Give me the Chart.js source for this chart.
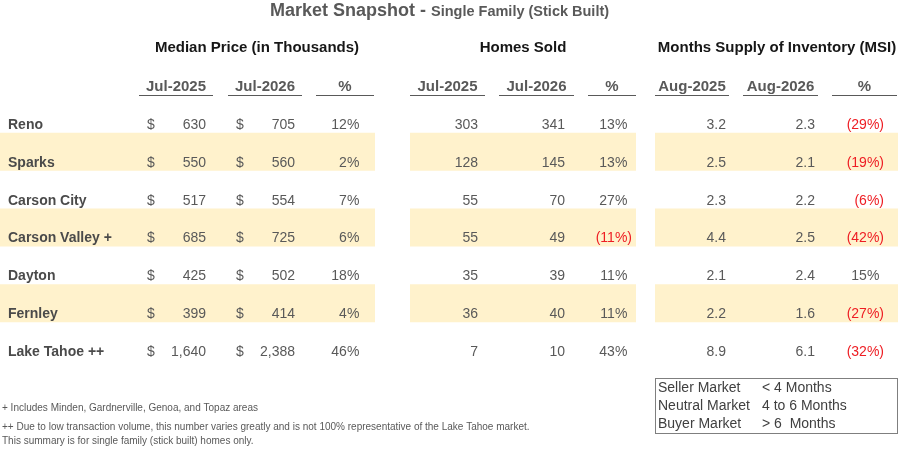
<!DOCTYPE html>
<html>
<head>
<meta charset="utf-8">
<script src="https://cdn.jsdelivr.net/npm/chart.js@4.4.1/dist/chart.umd.min.js"></script>
<style>
html, body { margin: 0; padding: 0; background: #fff; overflow: hidden; }
</style>
</head>
<body>
<canvas id="grafica" width="900" height="449"></canvas>
<script>
// datos de la tabla
const cities = ['Reno', 'Sparks', 'Carson City', 'Carson Valley +', 'Dayton', 'Fernley', 'Lake Tahoe ++'];
const priceJul2025 = [630, 550, 517, 685, 425, 399, 1640];
const priceJul2026 = [705, 560, 554, 725, 502, 414, 2388];
const pricePct = [12, 2, 7, 6, 18, 4, 46];
const soldJul2025 = [303, 128, 55, 55, 35, 36, 7];
const soldJul2026 = [341, 145, 70, 49, 39, 40, 10];
const soldPct = [13, 13, 27, -11, 11, 11, 43];
const msiAug2025 = [3.2, 2.5, 2.3, 4.4, 2.1, 2.2, 8.9];
const msiAug2026 = [2.3, 2.1, 2.2, 2.5, 2.4, 1.6, 6.1];
const msiPct = [-29, -19, -6, -42, 15, -27, -32];
const bandRows = ['Sparks', 'Carson Valley +', 'Fernley'];

const title = 'Market Snapshot';
const subtitle = 'Single Family (Stick Built)';
const groupTitles = ['Median Price (in Thousands)', 'Homes Sold', 'Months Supply of Inventory (MSI)'];
const columnLabels = ['Jul-2025', 'Jul-2026', '%', 'Jul-2025', 'Jul-2026', '%', 'Aug-2025', 'Aug-2026', '%'];
const legendRows = [['Seller Market', '< 4 Months'], ['Neutral Market', '4 to 6 Months'], ['Buyer Market', '> 6  Months']];
const footnotes = [
    '+ Includes Minden, Gardnerville, Genoa, and Topaz areas',
    '++ Due to low transaction volume, this number varies greatly and is not 100% representative of the Lake Tahoe market.',
    'This summary is for single family (stick built) homes only.'
];

// layout (pixeles sobre la escala x 0..900)
const bandSpans = [[0, 375], [410, 636], [655, 898]];
const groupCenters = [257, 523, 777];
const underlines = [[139, 213], [228, 302], [316, 374], [410, 485], [499, 574], [588, 636], [655, 729], [743, 818], [832, 897]];

const FONT = '"Liberation Sans", Arial, sans-serif';
const GRIS = '#595959';
const ROJO = '#ee1d23';

function miles(v) { return v.toLocaleString('en-US'); }

var tablaPlugin = {
    id: 'tabla',
    afterDatasetsDraw(chart) {
        var ctx = chart.ctx;
        var sx = chart.scales.x;
        var sy = chart.scales.y;
        var px = v => sx.getPixelForValue(v);
        ctx.save();
        ctx.textBaseline = 'middle';

        // titulo
        ctx.fillStyle = GRIS;
        ctx.textAlign = 'left';
        ctx.font = 'bold 18px ' + FONT;
        var t = title + ' - ';
        ctx.fillText(t, px(270), 11);
        var w = ctx.measureText(t).width;
        ctx.font = 'bold 14.5px ' + FONT;
        ctx.fillText(subtitle, px(270) + w, 12);

        // encabezados de grupo
        ctx.fillStyle = '#161616';
        ctx.textAlign = 'center';
        ctx.font = 'bold 15px ' + FONT;
        groupTitles.forEach((g, i) => ctx.fillText(g, px(groupCenters[i]), 48));

        // encabezados de columna + subrayado
        ctx.font = 'bold 15px ' + FONT;
        ctx.strokeStyle = GRIS;
        ctx.lineWidth = 1;
        columnLabels.forEach((c, i) => {
            var a = px(underlines[i][0]), b = px(underlines[i][1]);
            ctx.fillStyle = GRIS;
            ctx.fillText(c, (a + b) / 2, 87);
            ctx.beginPath();
            ctx.moveTo(a, 95.5);
            ctx.lineTo(b, 95.5);
            ctx.stroke();
        });

        // filas
        ctx.font = '14px ' + FONT;
        var paren = ctx.measureText(')').width;
        function pct(v, right, yy) {
            ctx.textAlign = 'right';
            if (v < 0) {
                ctx.fillStyle = ROJO;
                ctx.fillText('(' + Math.abs(v) + '%)', right, yy);
            } else {
                ctx.fillStyle = GRIS;
                ctx.fillText(v + '%', right - paren, yy);
            }
        }
        function num(s, right, yy) {
            ctx.textAlign = 'right';
            ctx.fillStyle = GRIS;
            ctx.fillText(s, right, yy);
        }
        cities.forEach((city, i) => {
            var yy = sy.getPixelForValue(i) + 11;
            ctx.font = 'bold 14px ' + FONT;
            ctx.textAlign = 'left';
            ctx.fillStyle = '#4a4a4a';
            ctx.fillText(city, px(8), yy);

            ctx.font = '14px ' + FONT;
            ctx.textAlign = 'left';
            ctx.fillStyle = GRIS;
            ctx.fillText('$', px(147), yy);
            ctx.fillText('$', px(236), yy);
            num(miles(priceJul2025[i]), px(206), yy);
            num(miles(priceJul2026[i]), px(295), yy);
            pct(pricePct[i], px(364), yy);

            num(String(soldJul2025[i]), px(478), yy);
            num(String(soldJul2026[i]), px(565), yy);
            pct(soldPct[i], px(632), yy);

            num(msiAug2025[i].toFixed(1), px(726), yy);
            num(msiAug2026[i].toFixed(1), px(815), yy);
            pct(msiPct[i], px(884), yy);
        });

        // notas al pie
        ctx.font = '10px ' + FONT;
        ctx.textAlign = 'left';
        ctx.fillStyle = GRIS;
        ctx.fillText(footnotes[0], px(2), 408, 256);
        ctx.fillText(footnotes[1], px(2), 427, 528);
        ctx.fillText(footnotes[2], px(2), 441, 257);

        // cuadro de mercado
        ctx.strokeStyle = '#7f7f7f';
        ctx.strokeRect(px(655) + 0.5, 378.5, px(897) - px(655), 55);
        ctx.font = '14px ' + FONT;
        ctx.fillStyle = '#404040';
        legendRows.forEach((r, i) => {
            var yy = 388 + i * 18;
            ctx.fillText(r[0], px(658), yy);
            ctx.fillText(r[1], px(762), yy);
        });
        ctx.restore();
    }
};

var datasets = bandSpans.map(span => ({
    data: cities.map(c => bandRows.includes(c) ? span : null),
    backgroundColor: '#fff2cc',
    borderWidth: 0,
    inflateAmount: 0,
    barPercentage: 1,
    categoryPercentage: 1,
    grouped: false
}));

var grafica = new Chart(document.getElementById('grafica').getContext('2d'), {
    type: 'bar',
    data: {
        labels: cities,
        datasets: datasets
    },
    options: {
        indexAxis: 'y',
        responsive: false,
        animation: false,
        events: [],
        layout: { padding: { top: 95, bottom: 89, left: 0, right: 0 } },
        plugins: { legend: { display: false }, tooltip: { enabled: false } },
        scales: {
            x: { type: 'linear', min: 0, max: 900, display: false },
            y: { type: 'category', display: false, offset: true }
        }
    },
    plugins: [tablaPlugin]
});
</script>
</body>
</html>
